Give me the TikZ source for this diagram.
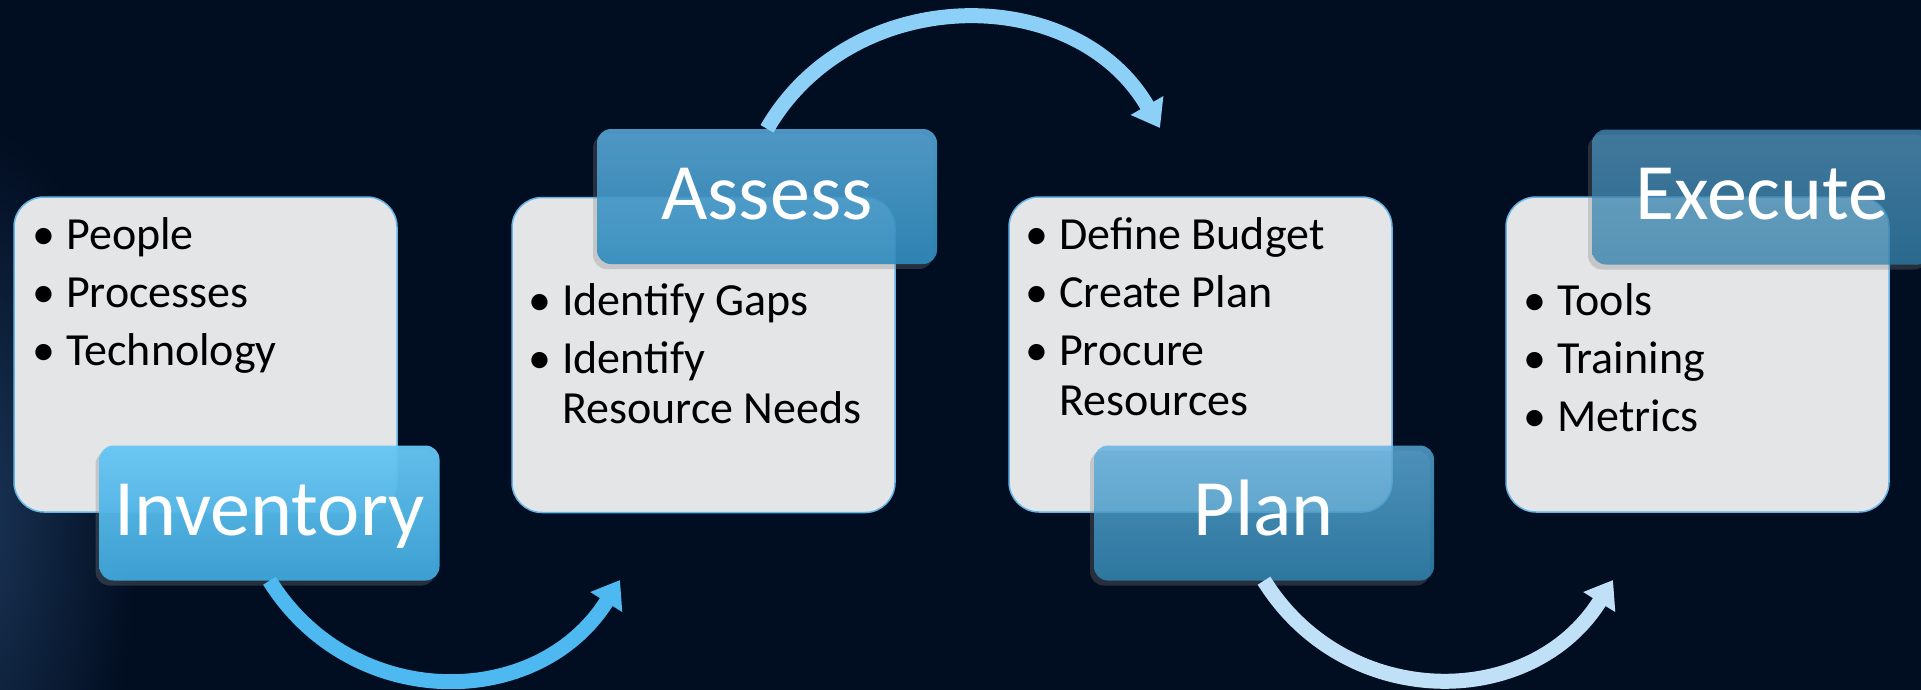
\documentclass[tikz,border=0pt]{standalone}
\usepackage{fontspec}
\setmainfont{Carlito}
\usetikzlibrary{arrows.meta,shadows}

\definecolor{bgnavy}{HTML}{010D20}
\definecolor{bgglow}{HTML}{1B3658}
\definecolor{cardgray}{HTML}{E4E5E7}
\definecolor{cardline}{HTML}{64B5E6}
\definecolor{invtop}{HTML}{66C6F5}
\definecolor{invbot}{HTML}{3EA6DA}
\definecolor{asstop}{HTML}{55A3D4}
\definecolor{assbot}{HTML}{2F8CBE}
\definecolor{platop}{HTML}{5AAEE0}
\definecolor{plabot}{HTML}{308CBC}
\definecolor{exetop}{HTML}{4C96C2}
\definecolor{exebot}{HTML}{2C80AE}
\definecolor{arrowa}{HTML}{4DB9F0}
\definecolor{arrowb}{HTML}{8CCFF7}
\definecolor{arrowc}{HTML}{BFE0F7}

% bullet list inside a card
\newcommand{\blist}[1]{\fontsize{46}{50}\selectfont
  \begin{tabular}[t]{@{}p{34pt}@{}l@{}}#1\end{tabular}}

\begin{document}
\begin{tikzpicture}[x=1pt,y=1pt,
    card/.style={draw=cardline, line width=1.5pt, fill=cardgray, rounded corners=30pt,
      minimum width=383pt, minimum height=315pt},
    tab/.style={rounded corners=14pt, minimum width=340pt, minimum height=135pt,
      text=white, text opacity=1, font=\fontsize{80}{80}\selectfont,
      text height=54pt, text depth=9pt,
      drop shadow={shadow xshift=-4pt, shadow yshift=-5pt, opacity=.3}},
    items/.style={anchor=base west, inner sep=0pt, text=black},
    flow/.style={line width=15pt, -{Triangle[width=36pt,length=26pt]}}]
  \useasboundingbox (0,0) rectangle (1921,-689);
  \fill[bgnavy] (-5,5) rectangle (1926,-694);
  \begin{scope}
    \clip (0,0) rectangle (1921,-689);
    \shade[inner color=bgglow, outer color=bgnavy] (-30,-520) ellipse (170pt and 400pt);
  \end{scope}

  % cards
  \node[card] (invcard) at (205.5,-354.5) {};
  \node[card] (asscard) at (703.5,-355) {};
  \node[card] (placard) at (1200.5,-354.5) {};
  \node[card] (execard) at (1697.5,-354.5) {};

  \node[items] (invlist) at (32,-249)
    {\blist{\textbullet & People\\[8pt] \textbullet & Processes\\[8pt] \textbullet & Technology}};
  \node[items] (asslist) at (528,-315)
    {\blist{\textbullet & Identify Gaps\\[8pt] \textbullet & Identify\\ & Resource Needs}};
  \node[items] (plalist) at (1025,-249)
    {\blist{\textbullet & Define Budget\\[8pt] \textbullet & Create Plan\\[8pt] \textbullet & Procure\\ & Resources}};
  \node[items] (exelist) at (1523,-315)
    {\blist{\textbullet & Tools\\[8pt] \textbullet & Training\\[8pt] \textbullet & Metrics}};

  % step labels
  \node[tab, top color=invtop, bottom color=invbot, fill opacity=.95] (inv) at (269.5,-513) {Inventory};
  \node[tab, top color=asstop, bottom color=assbot, fill opacity=.9] (ass) at (767,-196.5) {Assess};
  \node[tab, top color=platop, bottom color=plabot, fill opacity=.78] (pla) at (1264,-513) {Plan};
  \node[tab, top color=exetop, bottom color=exebot, fill opacity=.72] (exe) at (1762,-197) {Execute};

  % arrows
  \coordinate (e1) at (620,-580);
  \coordinate (e2) at (1160,-128);
  \coordinate (e3) at (1613,-580);
  \draw[flow, arrowa] (inv.south) to[out=-58, in=-122, looseness=1.13] (e1);
  \draw[flow, arrowb] (ass.north) to[out=60, in=120, looseness=1.1] (e2);
  \draw[flow, arrowc] (pla.south) to[out=-58, in=-122, looseness=1.13] (e3);
\end{tikzpicture}
\end{document}
